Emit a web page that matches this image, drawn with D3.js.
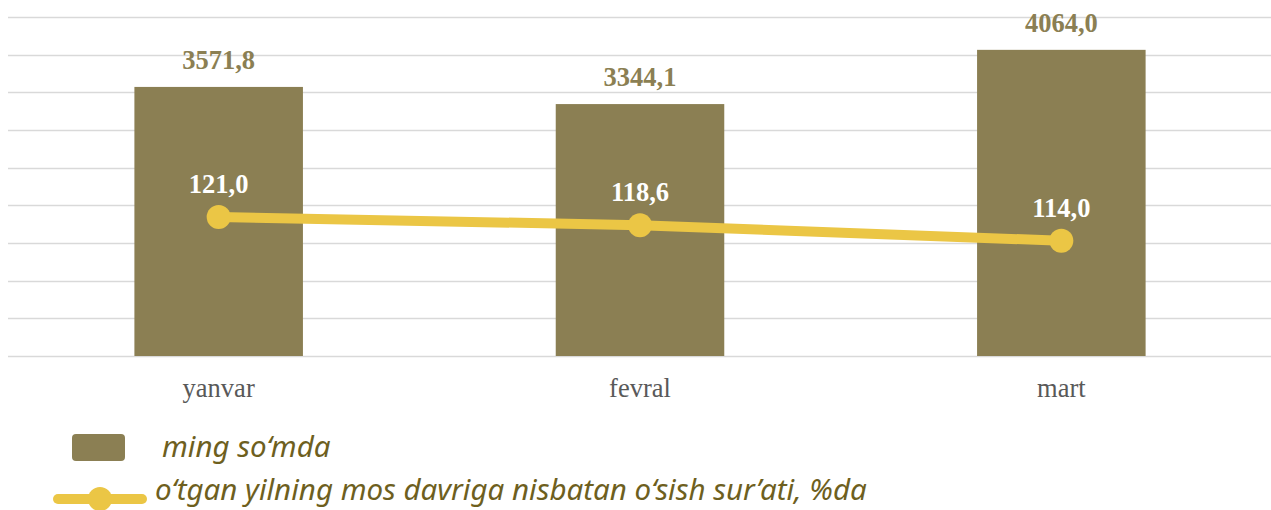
<!DOCTYPE html>
<meta charset="utf-8">
<style>
body { margin: 0; background: #fff; }
.grid line { stroke: #d9d9d9; stroke-width: 1.5; }
.bar-label { font: bold 26.5px "Liberation Serif", serif; fill: #8b7f53; text-anchor: middle; }
.line-label { font: bold 26.5px "Liberation Serif", serif; fill: #fff; text-anchor: middle; }
.cat { font: 26.5px "Liberation Serif", serif; fill: #595959; text-anchor: middle; }
.legend text { font: italic 29.5px "Noto Sans", sans-serif; fill: #6e5f1e; }
</style>
<svg width="1271" height="510" id="svg"></svg>
<script src="https://d3js.org/d3.v7.min.js"></script>
<script>

var months = ["yanvar", "fevral", "mart"];
var amounts = [3571.8, 3344.1, 4064.0];
var growth = [121.0, 118.6, 114.0];
var seriesNames = ["ming so\u2018mda", "o\u2018tgan yilning mos davriga nisbatan o\u2018sish sur\u2019ati, %da"];

var svg = d3.select("svg");

var x = d3.scaleBand()
    .domain(months)
    .range([8, 1272])
    .paddingInner(0.6)
    .paddingOuter(0.3);

var y = d3.scaleLinear()
    .domain([0, 4500])
    .range([356, 17]);

var y2 = d3.scaleLinear()
    .domain([80, 180])
    .range([356, 17]);

// gridlines
svg.append("g")
    .attr("class", "grid")
  .selectAll("line")
  .data(y.ticks(9))
  .enter().append("line")
    .attr("x1", 8)
    .attr("x2", 1271)
    .attr("y1", function(d) { return Math.round(y(d)) + 0.5; })
    .attr("y2", function(d) { return Math.round(y(d)) + 0.5; });

// bars
svg.append("g")
  .selectAll("rect")
  .data(amounts)
  .enter().append("rect")
    .attr("x", function(d, i) { return x(months[i]); })
    .attr("width", x.bandwidth())
    .attr("y", function(d) { return y(d); })
    .attr("height", function(d) { return y(0) - y(d); })
    .attr("fill", "#8b7f53");

svg.append("g")
  .selectAll("text")
  .data(amounts)
  .enter().append("text")
    .attr("class", "bar-label")
    .attr("x", function(d, i) { return x(months[i]) + x.bandwidth() / 2; })
    .attr("y", function(d) { return y(d) - 18; })
    .text(function(d) { return d.toFixed(1).replace(".", ","); });

// category labels
svg.append("g")
  .selectAll("text")
  .data(months)
  .enter().append("text")
    .attr("class", "cat")
    .attr("x", function(d) { return x(d) + x.bandwidth() / 2; })
    .attr("y", 397)
    .text(function(d) { return d; });

// line
var line = d3.line()
    .x(function(d, i) { return x(months[i]) + x.bandwidth() / 2; })
    .y(function(d) { return y2(d); });

svg.append("path")
    .datum(growth)
    .attr("d", line)
    .attr("fill", "none")
    .attr("stroke", "#ebc645")
    .attr("stroke-width", 10);

svg.append("g")
  .selectAll("circle")
  .data(growth)
  .enter().append("circle")
    .attr("cx", function(d, i) { return x(months[i]) + x.bandwidth() / 2; })
    .attr("cy", function(d) { return y2(d); })
    .attr("r", 12)
    .attr("fill", "#ebc645");

svg.append("g")
  .selectAll("text")
  .data(growth)
  .enter().append("text")
    .attr("class", "line-label")
    .attr("x", function(d, i) { return x(months[i]) + x.bandwidth() / 2; })
    .attr("y", function(d) { return y2(d) - 24; })
    .text(function(d) { return d.toFixed(1).replace(".", ","); });

// legend
var legend = svg.append("g").attr("class", "legend");

legend.append("rect")
    .attr("x", 72).attr("y", 434)
    .attr("width", 53).attr("height", 27)
    .attr("rx", 4)
    .attr("fill", "#8b7f53");
legend.append("text")
    .attr("x", 162).attr("y", 457)
    .text(seriesNames[0]);

legend.append("line")
    .attr("x1", 58).attr("x2", 142)
    .attr("y1", 499).attr("y2", 499)
    .attr("stroke", "#ebc645")
    .attr("stroke-width", 10)
    .attr("stroke-linecap", "round");
legend.append("circle")
    .attr("cx", 100).attr("cy", 499)
    .attr("r", 12)
    .attr("fill", "#ebc645");
legend.append("text")
    .attr("x", 155).attr("y", 500)
    .text(seriesNames[1]);

</script>
